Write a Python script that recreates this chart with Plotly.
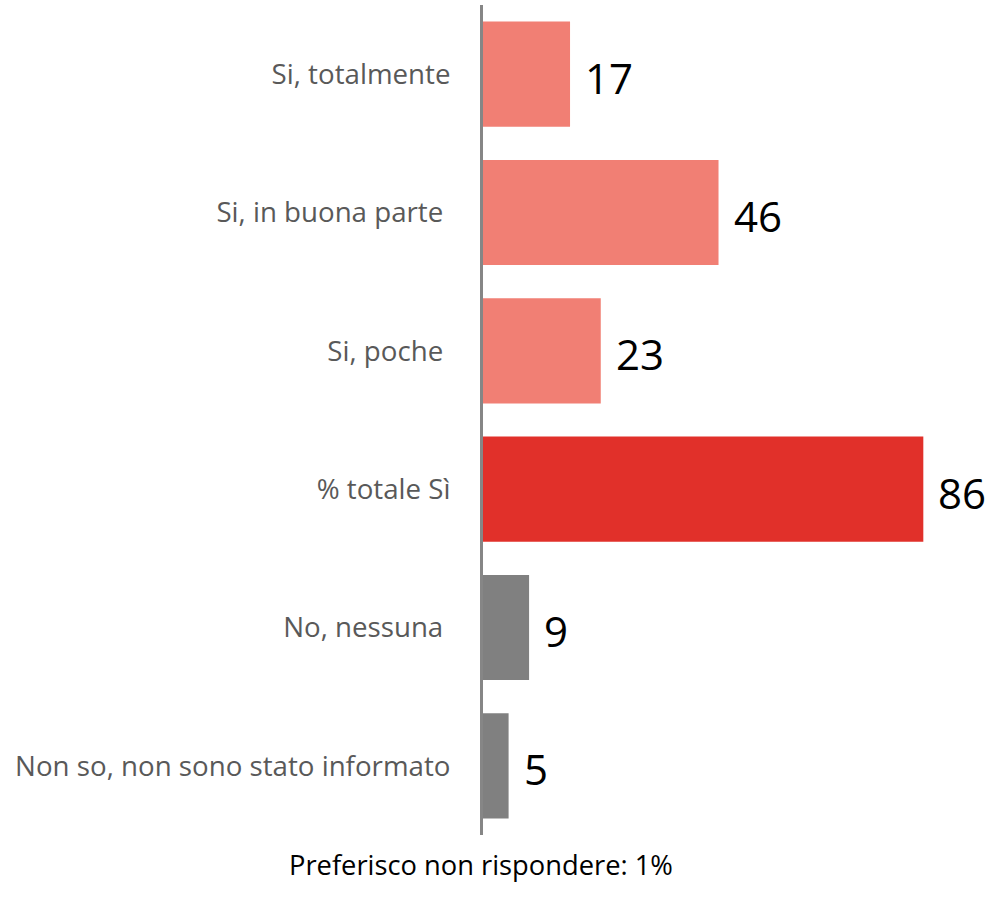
import plotly.graph_objects as go

categories = ["Si, totalmente", "Si, in buona parte ", "Si, poche ", "% totale Sì",
              "No, nessuna ", "Non so, non sono stato informato"]
values = [17, 46, 23, 86, 9, 5]
colors = ["#F17F74", "#F17F74", "#F17F74", "#E1302A", "#808080", "#808080"]
footnote = "Preferisco non rispondere: 1%"

W, H = 992, 908
ml, mr, mt, mb = 483, 0, 5, 73
px_per_unit = 5.12
xmax = (W - ml - mr) / px_per_unit

fig = go.Figure(go.Bar(
    y=categories, x=values, orientation="h",
    marker=dict(color=colors, line=dict(width=0)),
    hoverinfo="skip",
))

for c, v in zip(categories, values):
    fig.add_annotation(x=v, y=c, xref="x", yref="y", text=str(v),
                       showarrow=False, xanchor="left", xshift=13, yshift=-3,
                       font=dict(family="Open Sans", size=42, color="#000000"))

fig.add_annotation(x=(481 - ml) / (W - ml - mr), y=-(864 - (H - mb)) / (H - mt - mb),
                   xref="paper", yref="paper", text=footnote, showarrow=False,
                   xanchor="center", yanchor="middle",
                   font=dict(family="Open Sans", size=27.3, color="#000000"))

fig.update_layout(
    width=W, height=H,
    margin=dict(l=ml, r=mr, t=mt, b=mb),
    paper_bgcolor="white", plot_bgcolor="white",
    bargap=0.24, showlegend=False,
    xaxis=dict(range=[0, xmax], visible=False, fixedrange=True),
    yaxis=dict(autorange="reversed", showline=True, linecolor="#868686", linewidth=3,
               ticks="", showgrid=False, zeroline=False, ticklabelstandoff=24,
               tickfont=dict(family="Open Sans", size=27.7, color="#595959"),
               fixedrange=True),
)

fig.write_html("out.html", post_script="document.body.style.margin='0';",
               config={"displayModeBar": False})
